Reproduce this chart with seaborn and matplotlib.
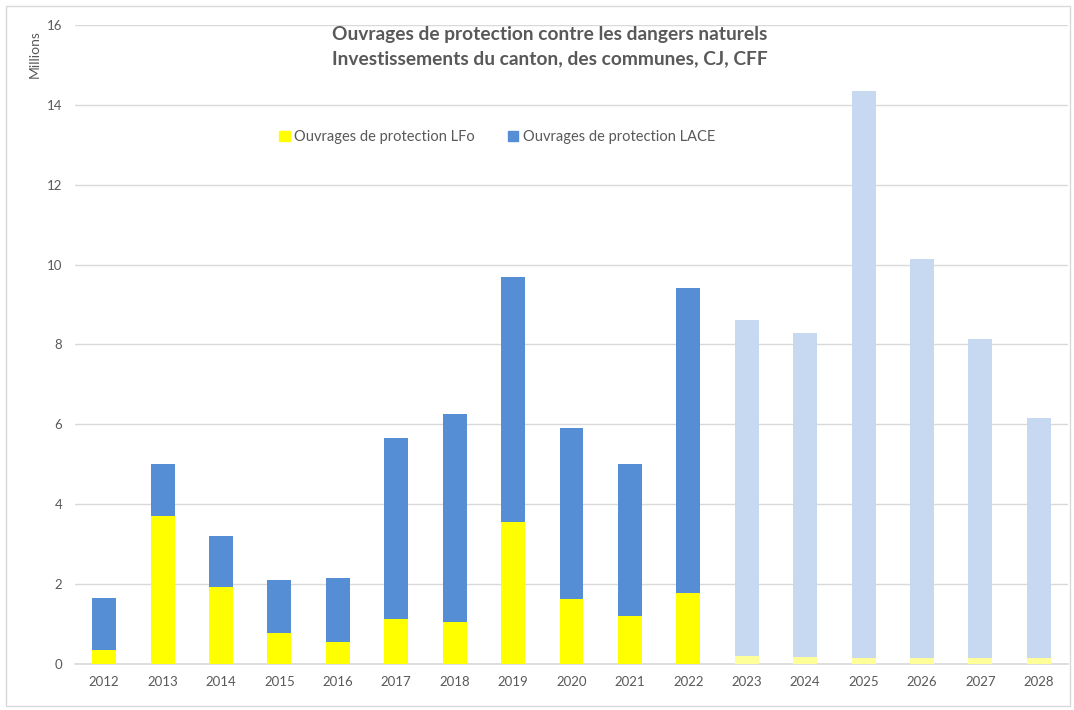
import matplotlib
matplotlib.use("Agg")
import matplotlib.pyplot as plt
from matplotlib.patches import Patch, Rectangle
import seaborn as sns
import pandas as pd

years = [str(y) for y in range(2012, 2029)]
lfo = [0.35, 3.70, 1.93, 0.78, 0.55, 1.12, 1.05, 3.55, 1.62, 1.20, 1.78,
       0.20, 0.17, 0.15, 0.15, 0.15, 0.15]
total = [1.65, 5.00, 3.20, 2.10, 2.15, 5.65, 6.25, 9.70, 5.90, 5.00, 9.42,
         8.62, 8.30, 14.35, 10.15, 8.15, 6.15]
first_plan_year = "2023"

df = pd.DataFrame({"year": years, "lfo": lfo, "total": total})
future = df["year"] >= first_plan_year
blue_cols = ["#C6D9F0" if f else "#558ED5" for f in future]
yellow_cols = ["#FFFF99" if f else "#FFFF00" for f in future]

sns.set_style("white")
plt.rcParams["font.family"] = ["Lato", "DejaVu Sans"]
grey = "#595959"

fig = plt.figure(figsize=(10.74, 7.1), dpi=100)
ax = fig.add_axes([0.0698, 0.0648, 0.9246, 0.9])

# LACE stacked on top of LFo: draw totals first, then LFo over them
sns.barplot(data=df, x="year", y="total", hue="year", palette=blue_cols,
            width=0.41, legend=False, ax=ax, saturation=1, zorder=2,
            linewidth=0)
sns.barplot(data=df, x="year", y="lfo", hue="year", palette=yellow_cols,
            width=0.41, legend=False, ax=ax, saturation=1, zorder=3,
            linewidth=0)

ax.set_ylim(0, 16)
ax.set_xlim(-0.5, 16.5)
ax.set_yticks(range(0, 17, 2))
ax.yaxis.grid(True, color="#D9D9D9", linewidth=1, zorder=0)
ax.set_axisbelow(True)
for s in ["top", "right", "left"]:
    ax.spines[s].set_visible(False)
ax.spines["bottom"].set_color("#D9D9D9")
ax.spines["bottom"].set_linewidth(1.2)
ax.tick_params(axis="both", length=0, labelsize=9.5, labelcolor=grey, pad=9)
ax.set_xlabel("")
ax.set_ylabel("Millions", fontsize=10, color=grey)
ax.yaxis.set_label_coords(-0.034, 0.955)

fig.text(0.512, 0.951, "Ouvrages de protection contre les dangers naturels",
         ha="center", va="center", fontsize=13.8, fontweight="bold", color=grey)
fig.text(0.512, 0.917, "Investissements du canton, des communes, CJ, CFF",
         ha="center", va="center", fontsize=13.8, fontweight="bold", color=grey)

handles = [Patch(color="#FFFF00", label="Ouvrages de protection LFo"),
           Patch(color="#558ED5", label="Ouvrages de protection LACE")]
fig.legend(handles=handles, loc="center", bbox_to_anchor=(0.463, 0.807), ncol=2,
           frameon=False, fontsize=10.5, labelcolor=grey, handlelength=0.7,
           handleheight=0.7, handletextpad=0.3, columnspacing=2.3)

fig.patches.append(Rectangle((0.006, 0.006), 0.99, 0.985, transform=fig.transFigure,
                             fill=False, edgecolor="#D9D9D9", linewidth=1))

fig.savefig("out.png", dpi=100)
